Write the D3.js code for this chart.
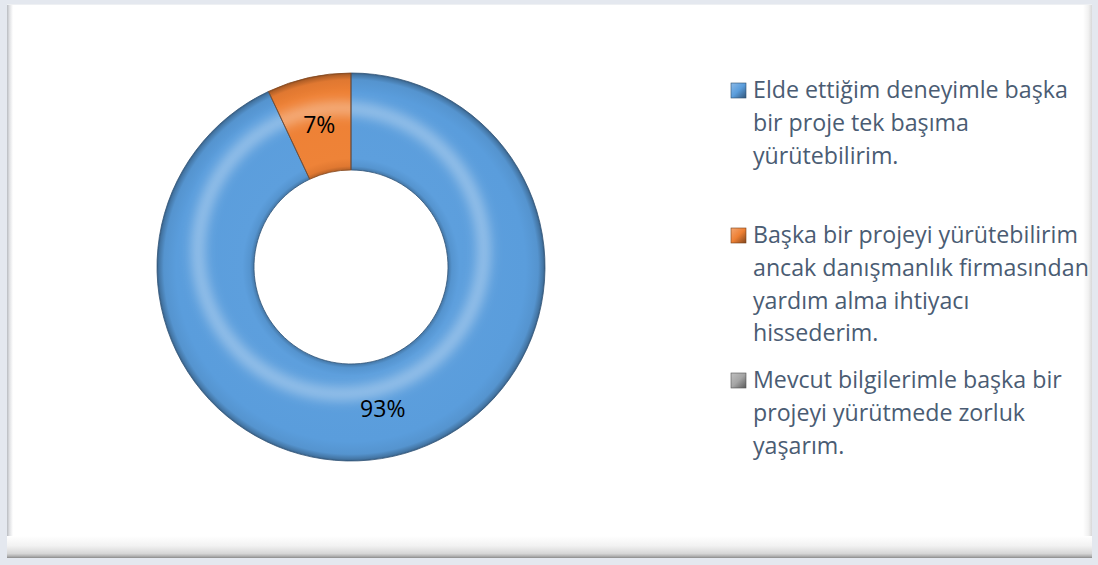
<!DOCTYPE html>
<html>
<head>
<meta charset="utf-8">
<script src="https://cdn.jsdelivr.net/npm/d3@7"></script>
<style>
  html, body { margin: 0; padding: 0; background: #e4e8ef; }
  svg { display: block; }
</style>
</head>
<body>
<svg id="chart" width="1098" height="565"></svg>
<script>
// ---- data ----
const categories = [
  "Elde ettiğim deneyimle başka\nbir proje tek başıma\nyürütebilirim.",
  "Başka bir projeyi yürütebilirim\nancak danışmanlık firmasından\nyardım alma ihtiyacı\nhissederim.",
  "Mevcut bilgilerimle başka bir\nprojeyi yürütmede zorluk\nyaşarım."
];
const values = [93, 7, 0];
const valueLabels = ["93%", "7%", ""];
const seriesColors = ["#5a9ddc", "#ee8034", "#a5a5a5"];

// ---- layout ----
const cx = 351, cy = 267, outerR = 194, innerR = 97;
const svg = d3.select("#chart");
const defs = svg.append("defs");
function shade(c, k) { return d3.interpolateRgb(c, k > 0 ? "#ffffff" : "#000000")(Math.abs(k)); }

// ---- frame / panel ----
const px0 = 7, py0 = 4, px1 = 1092, py1 = 558;
function linGrad(id, vertical, stops) {
  const gg = defs.append("linearGradient").attr("id", id)
    .attr("x1", 0).attr("y1", 0).attr("x2", vertical ? 0 : 1).attr("y2", vertical ? 1 : 0);
  stops.forEach(([o, c]) => gg.append("stop").attr("offset", o).attr("stop-color", c));
  return gg;
}
linGrad("bevelBottom", true, [[0, "#ffffff"], [0.45, "#f2f2f2"], [0.8, "#d6d6d6"], [0.92, "#b0b0b0"], [1, "#8a8a8a"]]);
linGrad("bevelLeft", false, [[0, "#b8bbc0"], [0.4, "#dfe0e3"], [1, "#ffffff"]]);
linGrad("bevelRight", false, [[0, "#ffffff"], [0.6, "#f1f1f1"], [1, "#d8d8d8"]]);

svg.append("rect").attr("x", px0).attr("y", py0).attr("width", px1 - px0).attr("height", py1 - py0).attr("fill", "#ffffff");
svg.append("rect").attr("x", px0).attr("y", py0).attr("width", 6).attr("height", py1 - py0).attr("fill", "url(#bevelLeft)");
svg.append("rect").attr("x", px1 - 9).attr("y", py0).attr("width", 9).attr("height", py1 - py0).attr("fill", "url(#bevelRight)");
svg.append("rect").attr("x", px0).attr("y", py1 - 22).attr("width", px1 - px0).attr("height", 22).attr("fill", "url(#bevelBottom)");
svg.append("line").attr("x1", px0).attr("x2", px1).attr("y1", py0 + 0.5).attr("y2", py0 + 0.5).attr("stroke", "#eef0f3");

// ---- donut ----
const pie = d3.pie().sort(null).value(d => d);
const arcs = pie(values);
const arc = d3.arc().innerRadius(innerR).outerRadius(outerR);
const ringPath = arc({ startAngle: 0, endAngle: 2 * Math.PI });

const fr = innerR / outerR;
seriesColors.forEach((c, i) => {
  const rg = defs.append("radialGradient").attr("id", "slice" + i)
    .attr("gradientUnits", "userSpaceOnUse").attr("cx", 0).attr("cy", 0).attr("r", outerR);
  [[0, -0.25], [fr, -0.25], [fr + 0.02, -0.06], [fr + 0.06, 0.02], [0.9, 0], [0.965, -0.06], [0.99, -0.25], [1, -0.4]]
    .forEach(([o, k]) => rg.append("stop").attr("offset", o).attr("stop-color", shade(c, k)));
});
defs.append("clipPath").attr("id", "ringClip").append("path").attr("d", ringPath);
const blur = defs.append("filter").attr("id", "soft").attr("x", "-20%").attr("y", "-20%").attr("width", "140%").attr("height", "140%");
blur.append("feGaussianBlur").attr("stdDeviation", 6);

const g = svg.append("g").attr("transform", `translate(${cx},${cy})`);
g.selectAll("path.slice").data(arcs.filter(d => d.value > 0)).enter().append("path")
  .attr("class", "slice")
  .attr("d", arc)
  .attr("fill", d => `url(#slice${d.index})`);

// lighting: highlight band shifted toward the light (top-left)
const light = g.append("g").attr("clip-path", "url(#ringClip)");
light.append("circle").attr("cx", -10).attr("cy", -16).attr("r", 143)
  .attr("fill", "none").attr("stroke", "#ffffff").attr("stroke-opacity", 0.38)
  .attr("stroke-width", 13).attr("filter", "url(#soft)");

// slice separators
g.selectAll("path.edge").data(arcs.filter(d => d.value > 0)).enter().append("path")
  .attr("class", "edge")
  .attr("d", arc)
  .attr("fill", "none")
  .attr("stroke", d => shade(seriesColors[d.index], -0.45))
  .attr("stroke-width", 0.8);

// value labels
g.selectAll("text.val").data(arcs.filter(d => d.value > 0)).enter().append("text")
  .attr("class", "val")
  .attr("transform", d => `translate(${arc.centroid(d)})`)
  .attr("text-anchor", "middle")
  .attr("dy", "0.36em")
  .style("font-family", "'Open Sans', 'Noto Sans', sans-serif")
  .style("font-size", "23px")
  .attr("fill", "#000000")
  .text(d => valueLabels[d.index]);

// ---- legend ----
const legendX = 731, lineH = 32.8;
const entryBase = [98, 243, 388];
seriesColors.forEach((c, i) => {
  linGrad("leg" + i, false, [[0, shade(c, 0.3)], [0.5, c], [1, shade(c, -0.45)]]).attr("y2", 1);
});
const leg = svg.append("g");
categories.forEach((cat, i) => {
  const base = entryBase[i];
  leg.append("rect").attr("x", legendX).attr("y", base - 15).attr("width", 15).attr("height", 15)
    .attr("fill", `url(#leg${i})`).attr("stroke", shade(seriesColors[i], -0.5)).attr("stroke-width", 0.6);
  const t = leg.append("text")
    .attr("x", legendX + 22).attr("y", base)
    .style("font-family", "'Open Sans', 'Noto Sans', sans-serif")
    .style("font-size", "23.2px")
    .attr("fill", "#4a5c73");
  cat.split("\n").forEach((line, j) => {
    t.append("tspan").attr("x", legendX + 22).attr("y", base + j * lineH).text(line);
  });
});
</script>
</body>
</html>
